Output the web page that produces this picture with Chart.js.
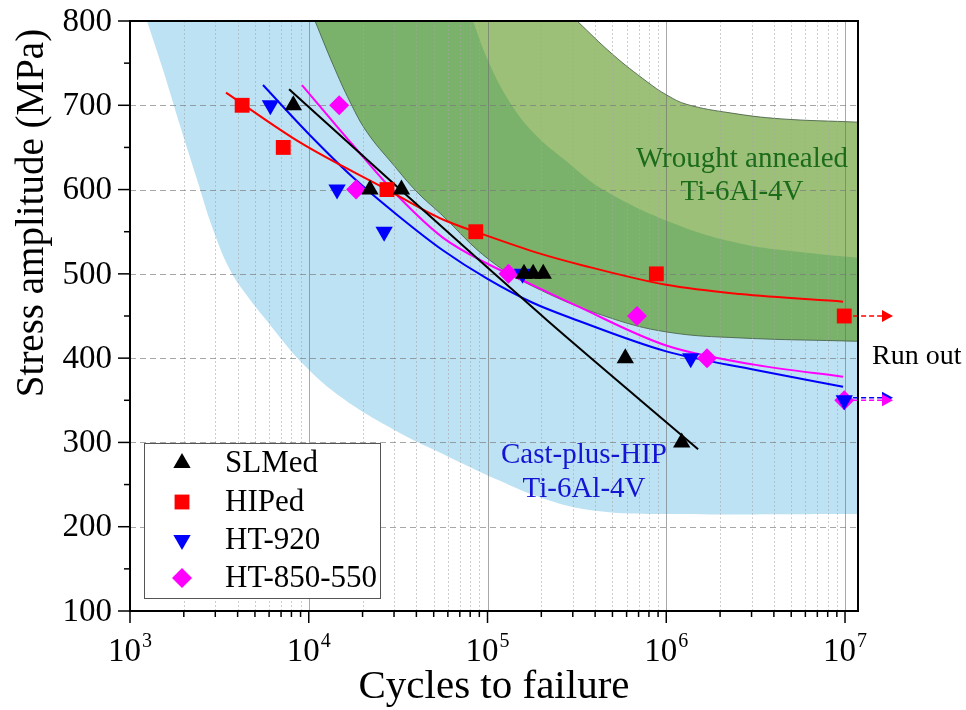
<!DOCTYPE html>
<html><head><meta charset="utf-8">
<script src="https://cdn.jsdelivr.net/npm/chart.js@4.4.1/dist/chart.umd.min.js"></script>
<style>html,body{margin:0;padding:0;background:#fff}#wrap{width:966px;height:710px}</style>
</head><body><div id="wrap"><canvas id="c" width="966" height="710"></canvas></div>
<script>
const FONT = '"Liberation Serif", "Times New Roman", Times, serif';

// ---- experimental points (cycles, stress amplitude MPa) ----
const slmedN = [8200, 22000, 33000, 160000, 180000, 205000, 590000, 1220000];
const slmedS = [700, 600, 600, 500, 500, 500, 400, 300];
const hipedN = [4240, 7200, 27400, 86000, 880000, 9900000];
const hipedS = [700, 650, 600, 550, 500, 450];
const ht920N = [6100, 14400, 26400, 157000, 1370000, 9900000];
const ht920S = [700, 600, 550, 500, 400, 350];
const ht850N = [14800, 18400, 131000, 686000, 1690000, 9900000];
const ht850S = [700, 600, 500, 450, 400, 350];

// ---- fitted curves ----
const slmedFitN = [7760, 33300, 215300, 1507000];
const slmedFitS = [719, 598, 445, 292];
const hipedFitN = [3443, 8933, 27420, 54200, 100000, 196800, 342000, 1000000, 2588000, 9750000];
const hipedFitS = [715, 656, 600, 566, 545, 524, 510, 487, 476, 467];
const ht920FitN = [5546, 10000, 17780, 31620, 56230, 100000, 177800, 316200, 1000000, 3162000, 9750000];
const ht920FitS = [724, 666, 614, 569, 528, 494, 466, 445, 408, 386, 366];
const ht850FitN = [9162, 17780, 31620, 56230, 100000, 177800, 316200, 1000000, 3162000, 9750000];
const ht850FitS = [724, 652, 592, 543, 512, 487, 462, 415, 392, 378];

// ---- scatter bands (boundaries) ----
const castLowN = [1245, 1531, 1905, 2371, 2911, 3622, 4519, 5546, 9290, 15560, 31190, 59290, 113000, 215300, 398000, 1000000, 11820000];
const castLowS = [800, 742, 676, 612, 553, 505, 474, 450, 393, 352, 313, 284, 256, 232, 219, 215, 215];
const wroughtLowN = [10840, 13680, 17020, 21180, 29580, 40360, 54200, 103300, 196800, 466700, 1009000, 2588000, 11820000];
const wroughtLowS = [800, 748, 704, 668, 630, 597, 572, 516, 481, 449, 431, 424, 420];
const wroughtMidN = [82990, 99310, 128500, 179500, 278600, 442600, 1091000, 2588000, 6124000, 11820000];
const wroughtMidS = [800, 756, 709, 668, 633, 600, 560, 536, 525, 519];
const wroughtHighN = [317000, 503500, 779800, 1009000, 1306000, 2275000, 4325000, 11820000];
const wroughtHighS = [800, 760, 728, 712, 701, 691, 684, 680];

// ---- run-out arrows ----
const runoutN = [11100000, 18560000];
const runoutHipedS = 450;
const runoutHt920S = 353;
const runoutHt850S = 350;

// ---- axes ----
const decades = [1e3, 1e4, 1e5, 1e6, 1e7];
const decadeExp = ['3', '4', '5', '6', '7'];
const minorMult = [2, 3, 4, 5, 6, 7, 8, 9];
const yTicks = [100, 200, 300, 400, 500, 600, 700, 800];
const yTickLabels = ['100', '200', '300', '400', '500', '600', '700', '800'];
const yMinorTicks = [150, 250, 350, 450, 550, 650, 750];
const legendNames = ['SLMed', 'HIPed', 'HT-920', 'HT-850-550'];

const pts = (N, S) => N.map((n, i) => ({ x: n, y: S[i] }));

const COL = { slm: '#000000', hip: '#ff0000', ht9: '#0000ff', ht8: '#ff00ff' };
const MK = {
  slm: { style: 'triangle', rot: 0, r: 10 },
  hip: { style: 'rect', rot: 0, r: 10.5 },
  ht9: { style: 'triangle', rot: 180, r: 10 },
  ht8: { style: 'rectRot', rot: 0, r: 10 }
};

function band(N, S, color, border, order, key) {
  return { key, data: pts(N, S), showLine: true, fill: 'end', backgroundColor: color,
    borderColor: border || 'rgba(0,0,0,0)', borderWidth: border ? 1 : 0, pointRadius: 0,
    tension: 0.4, order };
}
function fit(N, S, color, order) {
  return { data: pts(N, S), showLine: true, fill: false, borderColor: color, borderWidth: 2,
    pointRadius: 0, cubicInterpolationMode: 'monotone', order };
}
function marks(N, S, color, mk, order) {
  return { data: pts(N, S), showLine: false, pointStyle: mk.style, rotation: mk.rot,
    pointRadius: mk.r, pointBackgroundColor: color, pointBorderColor: color, pointBorderWidth: 0, order };
}
function arrow(S, color, order) {
  return { key: 'arrow', data: pts(runoutN, [S, S]), showLine: true, fill: false, borderColor: color,
    borderWidth: 1.5, borderDash: [5, 3], pointRadius: 0, clip: false, order };
}

function drawGrid(chart) {
  const { ctx, chartArea: a, scales: { x, y } } = chart;
  ctx.save();
  ctx.beginPath(); ctx.rect(a.left, a.top, a.right - a.left, a.bottom - a.top); ctx.clip();
  ctx.lineWidth = 1;
  ctx.strokeStyle = 'rgba(165,165,165,0.55)'; ctx.setLineDash([2, 2]);
  decades.forEach(d => minorMult.forEach(m => {
    const v = d * m; if (v > x.max) return;
    const px = Math.round(x.getPixelForValue(v)) + 0.5;
    ctx.beginPath(); ctx.moveTo(px, a.top); ctx.lineTo(px, a.bottom); ctx.stroke();
  }));
  ctx.setLineDash([]); ctx.strokeStyle = 'rgba(110,110,110,0.6)';
  decades.forEach(d => {
    const px = Math.round(x.getPixelForValue(d)) + 0.5;
    ctx.beginPath(); ctx.moveTo(px, a.top); ctx.lineTo(px, a.bottom); ctx.stroke();
  });
  ctx.setLineDash([6, 4]); ctx.strokeStyle = 'rgba(120,120,120,0.65)';
  yTicks.forEach(v => {
    if (v <= y.min || v >= y.max) return;
    const py = Math.round(y.getPixelForValue(v)) + 0.5;
    ctx.beginPath(); ctx.moveTo(a.left, py); ctx.lineTo(a.right, py); ctx.stroke();
  });
  ctx.restore();
}

function drawMarker(ctx, mk, x, y, color) {
  let rad = mk.rot * Math.PI / 180, r = mk.r;
  ctx.fillStyle = color; ctx.beginPath();
  if (mk.style === 'triangle') {
    for (let k = 0; k < 3; k++) {
      const px = x + Math.sin(rad) * r, py = y - Math.cos(rad) * r;
      k ? ctx.lineTo(px, py) : ctx.moveTo(px, py); rad += 2 * Math.PI / 3;
    }
  } else if (mk.style === 'rect') {
    const s = Math.SQRT1_2 * r; ctx.rect(x - s, y - s, 2 * s, 2 * s);
  } else {
    ctx.moveTo(x, y - r); ctx.lineTo(x + r, y); ctx.lineTo(x, y + r); ctx.lineTo(x - r, y);
  }
  ctx.closePath(); ctx.fill();
}

const deco = {
  id: 'deco',
  afterDatasetDraw(chart, args) {
    if (chart.data.datasets[args.index].key === 'top') drawGrid(chart);
  },
  afterDatasetsDraw(chart) {
    const ctx = chart.ctx;
    chart.data.datasets.forEach((ds, i) => {
      if (ds.key !== 'arrow') return;
      const m = chart.getDatasetMeta(i);
      const p = m.data[m.data.length - 1];
      ctx.save(); ctx.fillStyle = ds.borderColor; ctx.beginPath();
      ctx.moveTo(p.x, p.y); ctx.lineTo(p.x - 11, p.y - 6); ctx.lineTo(p.x - 11, p.y + 6);
      ctx.closePath(); ctx.fill(); ctx.restore();
    });
  },
  afterDraw(chart) {
    const { ctx, chartArea: a, scales: { x, y } } = chart;
    ctx.save();
    // frame
    ctx.strokeStyle = '#000'; ctx.lineWidth = 2; ctx.setLineDash([]);
    ctx.strokeRect(a.left, a.top, a.right - a.left, a.bottom - a.top);
    ctx.lineWidth = 1.5;
    const seg = (x1, y1, x2, y2) => { ctx.beginPath(); ctx.moveTo(x1, y1); ctx.lineTo(x2, y2); ctx.stroke(); };
    yTicks.forEach(v => { const py = y.getPixelForValue(v); seg(a.left - 12, py, a.left, py); });
    yMinorTicks.forEach(v => { const py = y.getPixelForValue(v); seg(a.left - 6, py, a.left, py); });
    decades.forEach(d => {
      if (d <= x.max) { const px = x.getPixelForValue(d); seg(px, a.bottom, px, a.bottom + 12); }
      minorMult.forEach(m => { const v = d * m; if (v <= x.max) { const px = x.getPixelForValue(v); seg(px, a.bottom, px, a.bottom + 6); } });
    });
    // tick labels
    ctx.fillStyle = '#000';
    ctx.font = '33px ' + FONT; ctx.textAlign = 'right'; ctx.textBaseline = 'middle';
    yTicks.forEach((v, i) => ctx.fillText(yTickLabels[i], 112, y.getPixelForValue(v) + 1));
    ctx.textAlign = 'left'; ctx.textBaseline = 'alphabetic';
    decades.forEach((d, i) => {
      const px = x.getPixelForValue(d);
      ctx.font = '33px ' + FONT; const w1 = ctx.measureText('10').width;
      ctx.font = '20px ' + FONT; const w2 = ctx.measureText(decadeExp[i]).width;
      const x0 = px - (w1 + w2 + 1) / 2;
      ctx.font = '33px ' + FONT; ctx.fillText('10', x0, 661);
      ctx.font = '20px ' + FONT; ctx.fillText(decadeExp[i], x0 + w1 + 1, 647);
    });
    // axis titles
    ctx.textAlign = 'center'; ctx.textBaseline = 'alphabetic';
    ctx.font = '41px ' + FONT;
    ctx.fillText('Cycles to failure', (a.left + a.right) / 2, 698);
    ctx.font = '39px ' + FONT;
    ctx.save(); ctx.translate(43, 213); ctx.rotate(-Math.PI / 2);
    ctx.fillText('Stress amplitude (MPa)', 0, 0); ctx.restore();
    // annotations
    ctx.font = '29px ' + FONT; ctx.fillStyle = '#1b6b1b';
    ctx.fillText('Wrought annealed', 742, 167);
    ctx.fillText('Ti-6Al-4V', 742, 200);
    ctx.fillStyle = '#1414d4';
    ctx.fillText('Cast-plus-HIP', 584, 463);
    ctx.fillText('Ti-6Al-4V', 584, 497);
    ctx.fillStyle = '#000'; ctx.font = '28px ' + FONT; ctx.textAlign = 'left'; ctx.textBaseline = 'middle';
    ctx.fillText('Run out', 872, 357);
    // legend
    ctx.fillStyle = '#fff'; ctx.fillRect(144, 443, 236, 155);
    ctx.strokeStyle = '#555'; ctx.lineWidth = 1; ctx.strokeRect(144.5, 443.5, 236, 155);
    const keys = ['slm', 'hip', 'ht9', 'ht8'];
    const rows = [463, 502, 540, 578];
    keys.forEach((k, i) => {
      drawMarker(ctx, MK[k], 182, rows[i], COL[k]);
      ctx.fillStyle = '#000'; ctx.font = '31px ' + FONT; ctx.textAlign = 'left'; ctx.textBaseline = 'middle';
      ctx.fillText(legendNames[i], 225, rows[i] + 1);
    });
    ctx.restore();
  }
};

new Chart(document.getElementById('c'), {
  type: 'line',
  data: {
    datasets: [
      band(castLowN, castLowS, '#bde2f3', null, 40, 'cast'),
      band(wroughtLowN, wroughtLowS, '#7bb26b', 'rgba(70,95,70,0.85)', 39, 'wl'),
      band(wroughtMidN, wroughtMidS, '#9cc078', null, 38, 'wm'),
      band(wroughtHighN, wroughtHighS, '#ffffff', 'rgba(70,95,70,0.85)', 37, 'top'),
      fit(slmedFitN, slmedFitS, COL.slm, 10),
      fit(hipedFitN, hipedFitS, COL.hip, 10),
      fit(ht920FitN, ht920FitS, COL.ht9, 10),
      fit(ht850FitN, ht850FitS, COL.ht8, 10),
      arrow(runoutHipedS, COL.hip, 6),
      arrow(runoutHt920S, COL.ht9, 6),
      arrow(runoutHt850S, COL.ht8, 6),
      marks(slmedN, slmedS, COL.slm, MK.slm, 1),
      marks(hipedN, hipedS, COL.hip, MK.hip, 1),
      marks(ht920N, ht920S, COL.ht9, MK.ht9, 1),
      marks(ht850N, ht850S, COL.ht8, MK.ht8, 1)
    ]
  },
  options: {
    responsive: false, animation: false, devicePixelRatio: 1,
    layout: { padding: { left: 130, right: 108, top: 21, bottom: 99 } },
    scales: {
      x: { type: 'logarithmic', min: 1000, max: 11820000, display: false },
      y: { type: 'linear', min: 100, max: 800, display: false }
    },
    plugins: { legend: { display: false }, tooltip: { enabled: false } },
    events: []
  },
  plugins: [deco]
});
</script>
</body></html>
